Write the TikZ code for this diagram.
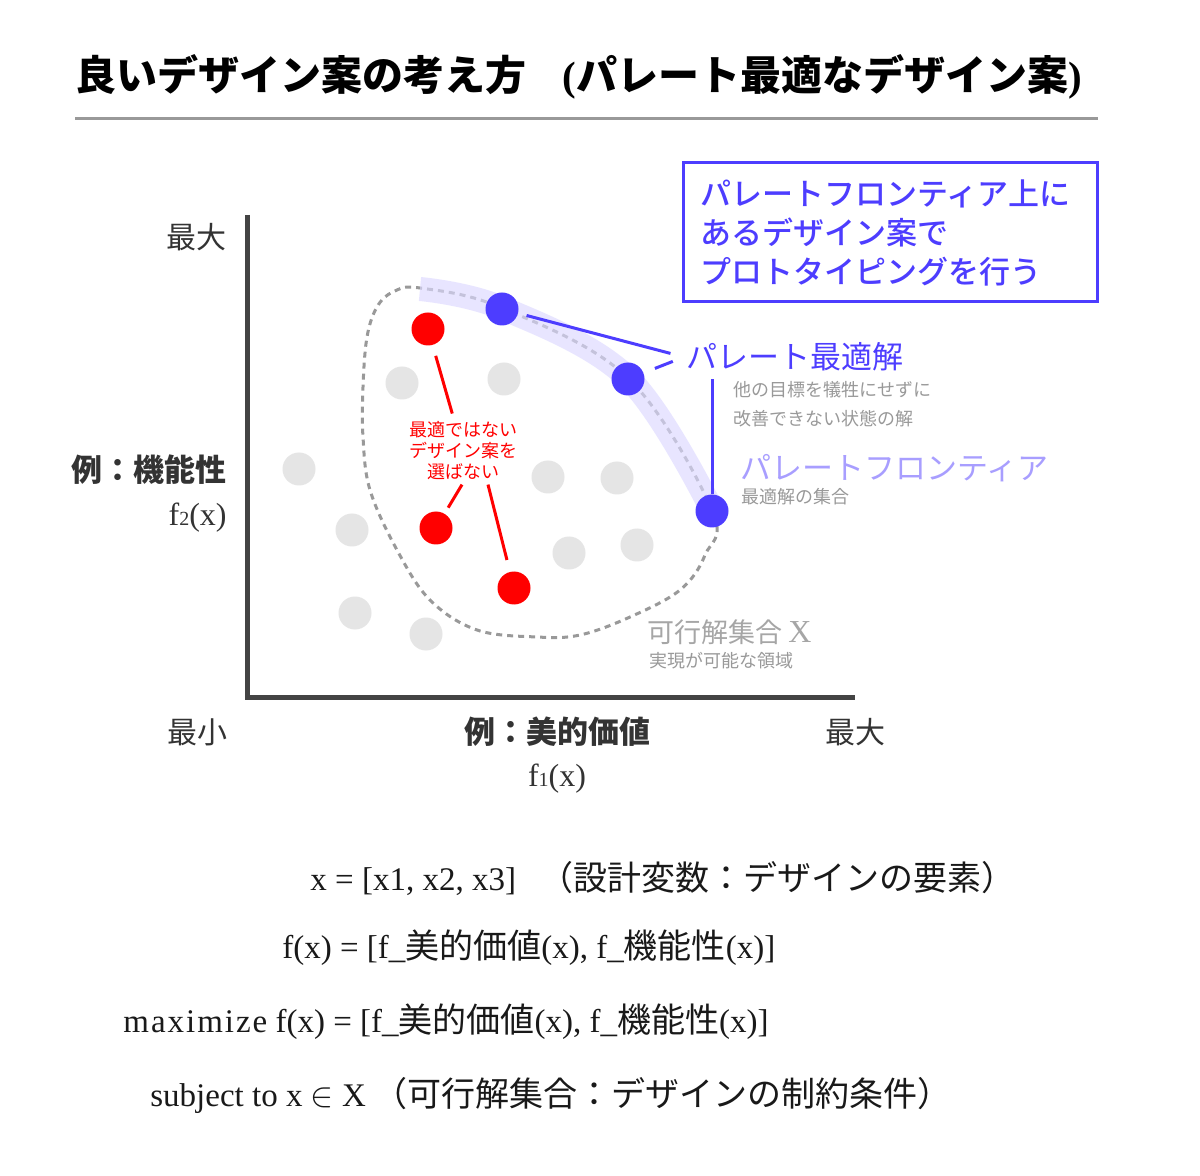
\documentclass[tikz,border=0pt]{standalone}
\usepackage{fontspec}
\setmainfont{Liberation Serif}
\newfontfamily\jp{Noto Sans CJK JP}
\newfontfamily\jpm{Noto Sans CJK JP Medium}
\usetikzlibrary{positioning,calc}
\definecolor{pblue}{RGB}{77,61,255}
\definecolor{pband}{RGB}{220,216,255}
\definecolor{plight}{RGB}{168,158,255}
\definecolor{dotgray}{RGB}{229,229,229}
\definecolor{txtgray}{RGB}{153,153,153}
\definecolor{axisgray}{RGB}{68,68,68}
\newcommand{\ja}[1]{{\jp\fontsize{17}{21}\selectfont #1}}

\begin{document}
\begin{tikzpicture}[x=0.5pt,y=-0.5pt,
  dot/.style={circle,inner sep=0pt,minimum size=16.5pt},
  gdot/.style={dot,fill=dotgray},
  rdot/.style={dot,fill=red},
  bdot/.style={dot,fill=pblue},
  redline/.style={red,line width=1.5pt},
  blueline/.style={pblue,line width=1.5pt}]
  \tikzset{lbl/.style={inner sep=1pt,text=black!80,font=\jp\fontsize{15}{18}\selectfont},
    note/.style={inner sep=1pt,anchor=west,text=txtgray,align=left,font=\jp\fontsize{9}{14.5}\selectfont},
    eq/.style={anchor=west,inner sep=0pt,text=black!90,font=\fontsize{16.5}{21}\selectfont}}
  \useasboundingbox (0,0) rectangle (1200,1176);
  \fill[white] (0,0) rectangle (1200,1176);

  \node[anchor=west,inner sep=0pt,font=\jp\bfseries\fontsize{20.5}{24}\selectfont] (title) at (75,77)
    {良いデザイン案の考え方\hspace{18pt}{\rmfamily(}パレート最適なデザイン案{\rmfamily)}};
  \draw[black!40,line width=1.5pt] (75,119) -- (1098,119);

  \coordinate (ytop) at (247,215);
  \coordinate (xend) at (855,697);
  \draw[axisgray,line width=2.5pt] (ytop) |- (xend);

  \node[lbl,anchor=east] (ymax) at (229,237) {最大};
  \node[lbl,anchor=east,font=\jp\bfseries\fontsize{15.5}{18}\selectfont] (ylab) at (229,470) {例：機能性};
  \node[lbl,anchor=east,font=\fontsize{16}{18}\selectfont] (f2) at (229,518) {f{\fontsize{10}{10}\selectfont 2}(x)};
  \node[lbl] (xmin) at (197,732) {最小};
  \node[lbl,font=\jp\bfseries\fontsize{15.5}{18}\selectfont] (xlab) at (557,732) {例：美的価値};
  \node[lbl] (xmax) at (855,732) {最大};
  \node[lbl,font=\fontsize{16}{18}\selectfont] (f1) at (557,779) {f{\fontsize{10}{10}\selectfont 1}(x)};

  \draw[txtgray,line width=1.5pt,dash pattern=on 3pt off 2.5pt] plot[smooth cycle,tension=0.6] coordinates
    {(420,288) (502,308) (628,378) (712,510) (705,555) (680,590) (630,617) (580,635) (537,637)
     (477,630) (430,600) (397,550) (370,490) (363,437) (363,387) (367,337) (377,307) (393,292)};
  \draw[pband,opacity=0.65,line width=12pt] plot[smooth,tension=0.6] coordinates
    {(420,289) (502,308) (628,378) (712,510)};

  \foreach \p [count=\i] in {(402,383),(504,379),(299,469),(548,477),(617,478),
      (352,530),(569,553),(637,545),(355,613),(426,634)}
    \node[gdot] (g\i) at \p {};
  \node[rdot] (r1) at (428,329) {};
  \node[rdot] (r2) at (436,528) {};
  \node[rdot] (r3) at (514,588) {};
  \node[bdot] (b1) at (502,309) {};
  \node[bdot] (b2) at (628,379) {};
  \node[bdot] (b3) at (712,511) {};

  \node[inner sep=2pt,red,align=center,font=\jp\fontsize{9}{10.5}\selectfont] (redtxt) at (463,451)
    {最適ではない\\デザイン案を\\選ばない};
  \draw[redline,shorten <=5.5pt,shorten >=2pt] (r1) -- (redtxt);
  \draw[redline,shorten >=3.4pt] ([xshift=-0.5pt]redtxt.south) -- (r2);
  \draw[redline,shorten >=6pt] ([xshift=12.5pt]redtxt.south) -- (r3);

  \node[lbl,anchor=west,text=pblue,font=\jp\fontsize{15.5}{18}\selectfont] (pareto) at (684,357) {パレート最適解};
  \draw[blueline,shorten <=4.25pt,shorten >=7pt] (b1) -- (pareto.west);
  \draw[blueline,shorten <=6pt,shorten >=6pt] (b2) -- (pareto.west);
  \draw[blueline,shorten <=2.75pt] (b3 |- pareto.south) -- (b3);
  \node[note] (paretonote) at (731,404.5) {他の目標を犠牲にせずに\\改善できない状態の解};

  \node[lbl,anchor=west,text=plight,font=\jp\fontsize{15.5}{18}\selectfont] (front) at (738,468) {パレートフロンティア};
  \node[note] (frontnote) at (739,497) {最適解の集合};

  \node[lbl,anchor=west,text=black!35,font=\jp\fontsize{13.5}{16}\selectfont] (feas) at (645,632)
    {可行解集合 {\rmfamily\fontsize{16}{16}\selectfont X}};
  \node[note] (feasnote) at (647,661) {実現が可能な領域};

  \node[draw=pblue,line width=1.5pt,text=pblue,text width=190pt,inner xsep=8.5pt,minimum height=69.5pt,
    align=left,font=\jpm\fontsize{15.5}{19.5}\selectfont] (protobox) at (890,232.5)
    {パレートフロンティア上に\\あるデザイン案で\\プロトタイピングを行う};

  \node[eq] (eq1) at (310,878) {x = [x1, x2, x3]\hspace{12pt}\ja{（設計変数：デザインの要素）}};
  \node[eq] (eq2) at (282,948) {f(x) = [f\_\ja{美的価値}(x), f\_\ja{機能性}(x)]};
  \node[eq] (eq3) at (123,1022) {{\addfontfeature{LetterSpace=6}maximize} f(x) = [f\_\ja{美的価値}(x), f\_\ja{機能性}(x)]};
  \node[eq] (eq4) at (150,1095) {subject to x $\in$ X\hspace{4pt}\ja{（可行解集合：デザインの制約条件）}};
\end{tikzpicture}
\end{document}
